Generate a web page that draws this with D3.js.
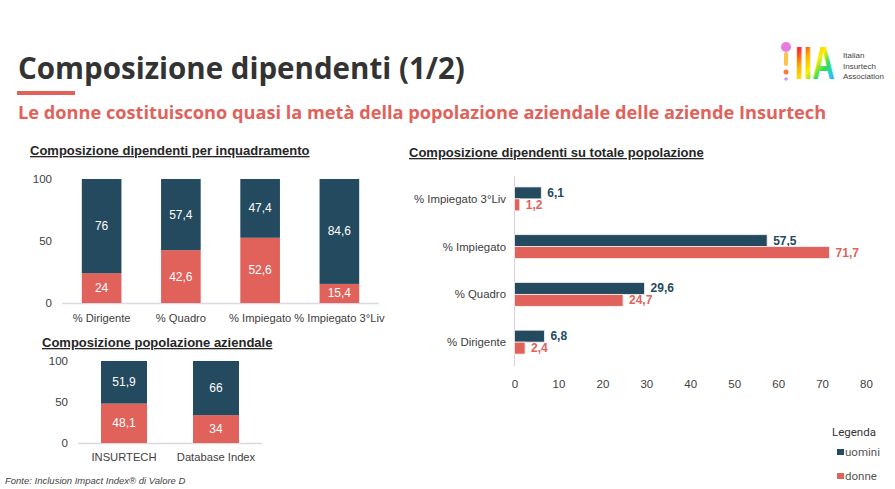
<!DOCTYPE html>
<html>
<head>
<meta charset="utf-8">
<script src="https://cdn.jsdelivr.net/npm/d3@7"></script>
<style>
  body { margin: 0; background: #fff; }
  svg { font-family: Arial, "Liberation Sans", sans-serif; }
</style>
</head>
<body>
<svg id="chart" width="895" height="489"></svg>
<script>
// data
const roleCats = ["% Dirigente", "% Quadro", "% Impiegato", "% Impiegato 3°Liv"];
const roleMen = [76, 57.4, 47.4, 84.6];
const roleWomen = [24, 42.6, 52.6, 15.4];

const popCats = ["INSURTECH", "Database Index"];
const popMen = [51.9, 66];
const popWomen = [48.1, 34];

const totCats = ["% Impiegato 3°Liv", "% Impiegato", "% Quadro", "% Dirigente"];
const totMen = [6.1, 57.5, 29.6, 6.8];
const totWomen = [1.2, 71.7, 24.7, 2.4];

const yTicks = [0, 50, 100];
const xTicks = [0, 10, 20, 30, 40, 50, 60, 70, 80];

const DARK = "#234a5e", RED = "#e0625b", GREY = "#404040";
const fmt = v => String(v).replace(".", ",");

const svg = d3.select("#chart");

// header
svg.append("text").attr("x", 18).attr("y", 79)
  .style("font-family", "'Open Sans', sans-serif").style("font-weight", "bold")
  .style("font-size", "29.5px").attr("fill", "#333")
  .text("Composizione dipendenti (1/2)");
svg.append("rect").attr("x", 17).attr("y", 91).attr("width", 58).attr("height", 4).attr("fill", RED);
svg.append("text").attr("x", 18).attr("y", 119)
  .style("font-family", "'Open Sans', sans-serif").style("font-weight", "bold")
  .style("font-size", "18.2px").attr("fill", RED)
  .text("Le donne costituiscono quasi la metà della popolazione aziendale delle aziende Insurtech");

// logo (approx)
const logo = svg.append("g");
const grad = svg.append("defs").append("linearGradient").attr("id", "rb")
  .attr("x1", 0).attr("y1", 0).attr("x2", 1).attr("y2", 1);
["#ff3fd0", "#ff2a2a", "#ffb000", "#ffee00", "#33dd55", "#22c7ff", "#7a4dff"].forEach((c, i, a) =>
  grad.append("stop").attr("offset", i / (a.length - 1)).attr("stop-color", c));
logo.append("circle").attr("cx", 786).attr("cy", 47).attr("r", 5).attr("fill", "#e97be0");
logo.append("rect").attr("x", 784).attr("y", 52).attr("width", 4).attr("height", 14).attr("rx", 2).attr("fill", "#ffc24a");
logo.append("circle").attr("cx", 786).attr("cy", 72).attr("r", 2.5).attr("fill", "#ff7a3a");
logo.append("circle").attr("cx", 786).attr("cy", 79).attr("r", 1.8).attr("fill", "#c79be8");
logo.append("text").attr("transform", "translate(795,79) scale(1.2,1.75)")
  .style("font-family", "'Liberation Sans', Arial, sans-serif")
  .style("font-weight", "bold").style("font-size", "26px").attr("fill", "url(#rb)").text("IIA");
["Italian", "Insurtech", "Association"].forEach((t, i) =>
  logo.append("text").attr("x", 843).attr("y", 58 + i * 10.5).style("font-size", "8px")
    .attr("fill", "#444").text(t));

// chart titles
function title(x, y, t) {
  svg.append("text").attr("x", x).attr("y", y).style("font-weight", "bold")
    .style("font-size", "13px").attr("fill", "#262626")
    .style("text-decoration", "underline").text(t);
}
title(30, 155, "Composizione dipendenti per inquadramento");
title(42, 347, "Composizione popolazione aziendale");
title(409, 157, "Composizione dipendenti su totale popolazione");

// stacked columns
function stacked(cats, men, women, xr, y0, y1, tickX, catY) {
  const x = d3.scaleBand().domain(cats).range(xr).paddingInner(0.5).paddingOuter(0.25);
  const y = d3.scaleLinear().domain([0, 100]).range([y0, y1]);
  const g = svg.append("g");
  g.append("line").attr("x1", xr[0]).attr("x2", xr[1]).attr("y1", y(0) + 0.5).attr("y2", y(0) + 0.5)
    .attr("stroke", "#dcd8e2").attr("stroke-width", 1.5);
  g.selectAll(".yt").data(yTicks).join("text")
    .attr("x", tickX).attr("y", d => y(d) + 4).attr("text-anchor", "end")
    .style("font-size", "11.5px").attr("fill", GREY).text(d => d);
  cats.forEach((c, i) => {
    g.append("rect").attr("x", x(c)).attr("width", x.bandwidth())
      .attr("y", y(women[i])).attr("height", y(0) - y(women[i])).attr("fill", RED);
    g.append("rect").attr("x", x(c)).attr("width", x.bandwidth())
      .attr("y", y(100)).attr("height", y(women[i]) - y(100)).attr("fill", DARK);
    g.append("text").attr("x", x(c) + x.bandwidth() / 2).attr("y", y(women[i] / 2) + 4)
      .attr("text-anchor", "middle").style("font-size", "12px").attr("fill", "#fff").text(fmt(women[i]));
    g.append("text").attr("x", x(c) + x.bandwidth() / 2).attr("y", y(women[i] + men[i] / 2) + 4)
      .attr("text-anchor", "middle").style("font-size", "12px").attr("fill", "#fff").text(fmt(men[i]));
    g.append("text").attr("x", x(c) + x.bandwidth() / 2).attr("y", catY)
      .attr("text-anchor", "middle").style("font-size", "11.2px").attr("fill", GREY).text(c);
  });
}
stacked(roleCats, roleMen, roleWomen, [62, 379], 303, 179, 52, 322);
stacked(popCats, popMen, popWomen, [78, 262], 443, 361, 68, 461);

// grouped horizontal bars
const hx = d3.scaleLinear().domain([0, 80]).range([514.5, 866]);
const hy = d3.scaleBand().domain(totCats).range([175, 366]).paddingInner(0.5).paddingOuter(0.25);
const sub = d3.scaleBand().domain(["u", "d"]).range([0, hy.bandwidth()]);
const hg = svg.append("g");
hg.append("line").attr("x1", hx(0)).attr("x2", hx(0)).attr("y1", 176).attr("y2", 366)
  .attr("stroke", "#e2cfe0").attr("stroke-width", 1.2);
hg.append("g").attr("transform", "translate(0,372)")
  .call(d3.axisBottom(hx).tickValues(xTicks).tickSize(0).tickPadding(8))
  .call(a => a.select(".domain").remove())
  .selectAll("text").style("font-size", "11.5px").style("font-family", "Arial, 'Liberation Sans', sans-serif").attr("fill", GREY);
totCats.forEach((c, i) => {
  [["u", totMen[i], DARK], ["d", totWomen[i], RED]].forEach(([k, v, col]) => {
    const yy = hy(c) + sub(k);
    hg.append("rect").attr("x", hx(0)).attr("y", yy).attr("width", hx(v) - hx(0))
      .attr("height", sub.bandwidth()).attr("fill", col).attr("stroke", "#f0f0f0").attr("stroke-width", 0.8);
    hg.append("text").attr("x", hx(v) + 6).attr("y", yy + sub.bandwidth() / 2 + 4)
      .style("font-size", "12px").style("font-weight", "bold").attr("fill", col).text(fmt(v));
  });
  hg.append("text").attr("x", 506).attr("y", hy(c) + hy.bandwidth() / 2 + 4).attr("text-anchor", "end")
    .style("font-size", "11.4px").attr("fill", GREY).text(c);
});

// legend
const lg = svg.append("g").style("font-family", "Roboto, sans-serif");
lg.append("text").attr("x", 832).attr("y", 436).style("font-size", "11.5px").attr("fill", "#333").text("Legenda");
[["uomini", DARK, 456], ["donne", RED, 480]].forEach(([t, c, yy]) => {
  lg.append("rect").attr("x", 837).attr("y", yy - 7).attr("width", 7).attr("height", 6).attr("fill", c);
  lg.append("text").attr("x", 845).attr("y", yy).style("font-size", "11.5px").attr("fill", "#555").text(t);
});

// source
svg.append("text").attr("x", 5).attr("y", 484).style("font-size", "9.5px").style("font-style", "italic")
  .attr("fill", "#444").text("Fonte: Inclusion Impact Index® di Valore D");
</script>
</body>
</html>
